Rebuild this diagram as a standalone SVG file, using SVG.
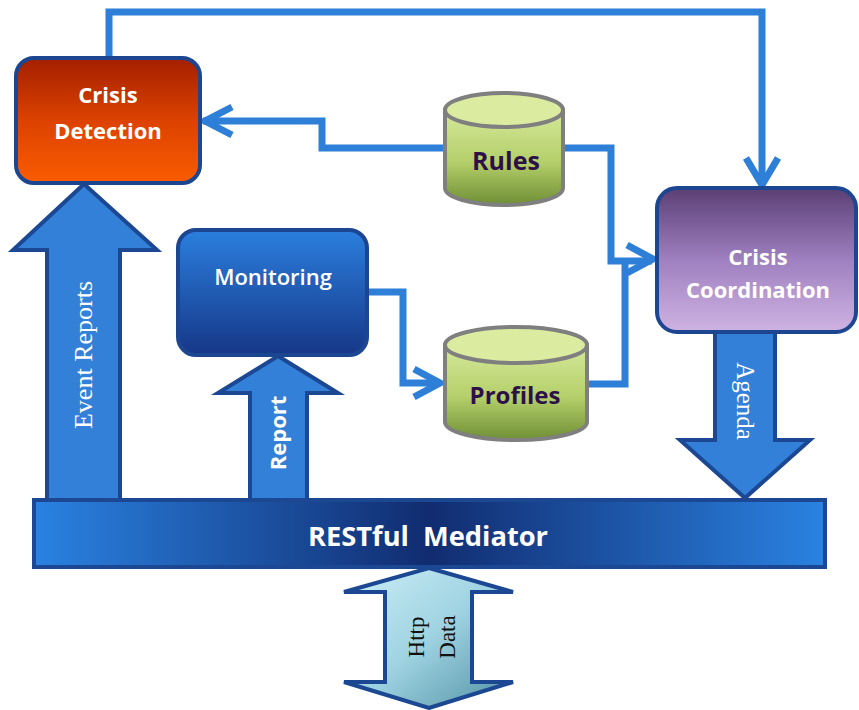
<svg xmlns="http://www.w3.org/2000/svg" width="859" height="710" viewBox="0 0 859 710">
<defs>
<linearGradient id="gDet" x1="0" y1="0" x2="0" y2="1"><stop offset="0" stop-color="#a31f00"/><stop offset="0.5" stop-color="#dc4200"/><stop offset="1" stop-color="#fb5c00"/></linearGradient>
<linearGradient id="gMon" x1="0" y1="0" x2="0" y2="1"><stop offset="0" stop-color="#2b7fde"/><stop offset="1" stop-color="#163788"/></linearGradient>
<linearGradient id="gCoo" x1="0" y1="0" x2="0" y2="1"><stop offset="0" stop-color="#5a3f74"/><stop offset="0.5" stop-color="#9f80c0"/><stop offset="1" stop-color="#cfb3e2"/></linearGradient>
<linearGradient id="gCyl" x1="0" y1="0" x2="0" y2="1"><stop offset="0" stop-color="#d5e89a"/><stop offset="0.55" stop-color="#b4cf6a"/><stop offset="1" stop-color="#6f8f35"/></linearGradient>
<linearGradient id="gBar" x1="0" y1="0" x2="1" y2="0"><stop offset="0" stop-color="#2a82e2"/><stop offset="0.5" stop-color="#112c70"/><stop offset="1" stop-color="#2a82e2"/></linearGradient>
<linearGradient id="gHttp" x1="0" y1="0" x2="1" y2="1"><stop offset="0" stop-color="#cdeef6"/><stop offset="0.5" stop-color="#9fd3e2"/><stop offset="1" stop-color="#4f8fa2"/></linearGradient>
<style>
.box{stroke:#1d4690;stroke-width:4}
.cyl{stroke:#7f7f7f;stroke-width:4}
.big{fill:#3380d8;stroke:#1b4793;stroke-width:4;stroke-linejoin:miter}
.lbl{font-family:"Open Sans","Liberation Sans",sans-serif;font-weight:bold;font-size:22px;fill:#ffffff;text-anchor:middle}
.reg{font-weight:600}
.db{font-family:"Open Sans","Liberation Sans",sans-serif;font-weight:bold;font-size:24px;fill:#2e1048;text-anchor:middle}
.ser{font-family:"Liberation Serif","Times New Roman",serif;text-anchor:middle}
.con{fill:none;stroke:#2e7fd8;stroke-width:7;stroke-linejoin:miter;stroke-linecap:butt}
</style>
</defs>
<rect width="859" height="710" fill="#ffffff"/>

<g id="connectors">
<path class="con" d="M109,57 V12 H762 V185"/>
<polyline class="con" points="746,158 762,185 778,158"/>
<path class="con" d="M447,148 H322 V121 H203"/>
<polyline class="con" points="232,107 205,121 232,135"/>
<path class="con" d="M563,148 H611 V261 H652"/>
<path class="con" d="M585,384 H625 V261"/>
<polyline class="con" points="627,245 653,259 627,273"/>
<path class="con" d="M367,292 H403 V383 H440"/>
<polyline class="con" points="414,369 440,383 414,397"/>
</g>

<g id="event-reports">
<polygon class="big" points="84,184 157,250 120,250 120,500 47,500 47,250 13,250"/>
<text class="ser" font-size="26" fill="#ffffff" transform="translate(92,355) rotate(-90)">Event Reports</text>
</g>
<g id="report">
<polygon class="big" points="278,356 338,393 307,393 307,500 250,500 250,393 218,393"/>
<text class="lbl" transform="translate(286,433) rotate(-90)">Report</text>
</g>
<g id="agenda">
<polygon class="big" points="715,331 775,331 775,440 810,440 745,498 680,440 715,440"/>
<text class="ser" font-size="25" fill="#ffffff" transform="translate(737,401) rotate(90)">Agenda</text>
</g>

<g id="crisis-detection">
<rect class="box" x="16" y="58" width="184" height="125" rx="18" fill="url(#gDet)"/>
<text class="lbl" x="108" y="103">Crisis</text>
<text class="lbl" x="108" y="139">Detection</text>
</g>

<g id="monitoring">
<rect class="box" x="178" y="230" width="189" height="125" rx="18" fill="url(#gMon)"/>
<text class="lbl reg" x="273" y="285">Monitoring</text>
</g>

<g id="crisis-coordination">
<rect class="box" x="657" y="188" width="199" height="144" rx="20" fill="url(#gCoo)"/>
<text class="lbl" x="758" y="265">Crisis</text>
<text class="lbl" x="758" y="298">Coordination</text>
</g>

<g id="rules">
<path class="cyl" d="M445,110 V188 A59,17 0 0 0 563,188 V110 Z" fill="url(#gCyl)"/>
<ellipse class="cyl" cx="504" cy="110" rx="59" ry="17" fill="#dbeba0"/>
<text class="db" x="506" y="170" style="font-size:25px">Rules</text>
</g>

<g id="profiles">
<path class="cyl" d="M445,345 V422 A71,18 0 0 0 587,422 V345 Z" fill="url(#gCyl)"/>
<ellipse class="cyl" cx="516" cy="345" rx="71" ry="18" fill="#dbeba0"/>
<text class="db" x="515" y="404">Profiles</text>
</g>

<g id="restful-mediator">
<rect x="34" y="500" width="791" height="67" fill="url(#gBar)" stroke="#1b4793" stroke-width="4"/>
<text class="lbl" x="428" y="546" style="font-size:26px" textLength="240" lengthAdjust="spacingAndGlyphs" xml:space="preserve">RESTful  Mediator</text>
</g>

<g id="http-data">
<polygon points="429,568 513,592 472,592 472,682 513,682 429,708 344,682 385,682 385,592 344,592" fill="url(#gHttp)" stroke="#1b4793" stroke-width="4"/>
<text class="ser" font-size="23" fill="#111111" transform="translate(424,637) rotate(-90)">Http</text>
<text class="ser" font-size="23" fill="#111111" transform="translate(455,637) rotate(-90)">Data</text>
</g>
</svg>
